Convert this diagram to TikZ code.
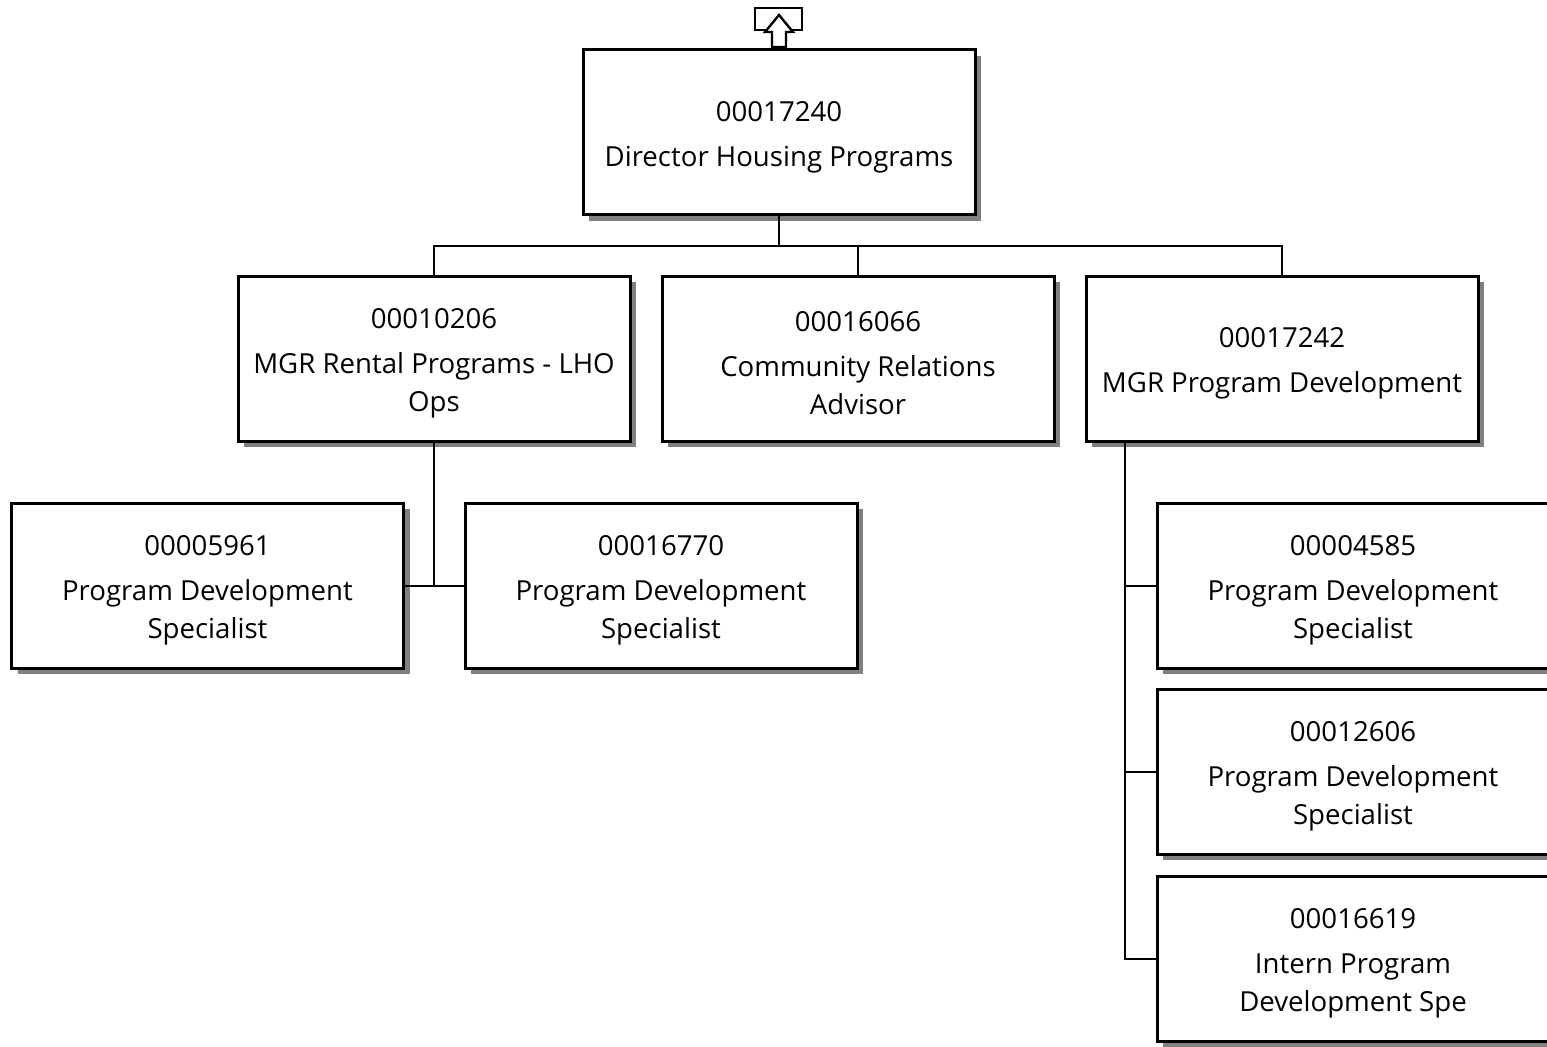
\documentclass[tikz,border=0pt]{standalone}
\usepackage{fontspec}
\setmainfont{Open Sans}
\usetikzlibrary{shadows}
\newcommand\postgap{\rule{0pt}{15pt}}

\begin{document}
\begin{tikzpicture}[x=0.5pt,y=-0.5pt]
\tikzset{
  post/.style={draw=black,line width=1.5pt,fill=white,minimum width=196pt,
    minimum height=82.5pt,align=center,inner sep=0pt,
    font=\fontsize{13.8}{19}\selectfont,
    drop shadow={shadow xshift=3pt,shadow yshift=-3pt,fill=gray,opacity=1}},
  link/.style={draw=black,line width=1pt}
}
\useasboundingbox (0,0) rectangle (1547,1046);
% top level
\node [post] (p17240) at (779,132) {\postgap 00017240\\[3.5pt]Director Housing Programs};
% second level
\node [post] (p10206) at (434,358.5) {\postgap 00010206\\[3.5pt]MGR Rental Programs - LHO\\Ops};
\node [post] (p16066) at (858,358.5) {\postgap 00016066\\[3.5pt]Community Relations\\Advisor};
\node [post] (p17242) at (1282,358.5) {\postgap 00017242\\[3.5pt]MGR Program Development};
% under 00010206
\node [post] (p05961) at (207.5,585.5) {\postgap 00005961\\[3.5pt]Program Development\\Specialist};
\node [post] (p16770) at (661,585.5) {\postgap 00016770\\[3.5pt]Program Development\\Specialist};
% under 00017242
\node [post] (p04585) at (1353,585.5) {\postgap 00004585\\[3.5pt]Program Development\\Specialist};
\node [post] (p12606) at (1353,771.5) {\postgap 00012606\\[3.5pt]Program Development\\Specialist};
\node [post] (p16619) at (1353,958.5) {\postgap 00016619\\[3.5pt]Intern Program\\Development Spe};
% connectors
\coordinate (bus) at (779,246);
\draw [link] (p17240.south) -- (bus);
\draw [link] (p10206.north) |- (bus) -| (p17242.north);
\draw [link] (p16066.north) -- (p16066.north |- bus);
\draw [link] (p10206.south) -- (p10206.south |- p05961.east);
\draw [link] (p05961.east) -- (p16770.west);
\coordinate (spine) at ([xshift=20pt]p17242.south west);
\draw [link] (spine) |- (p16619.west);
\draw [link] (spine |- p04585.west) -- (p04585.west);
\draw [link] (spine |- p12606.west) -- (p12606.west);
% up marker
\draw [line width=1.2pt,fill=white] (755,8) rectangle (802,30);
\draw [line width=1.2pt,fill=white,line join=miter] (779,15) -- (793,32) -- (786,32) -- (786,47)
  -- (772,47) -- (772,32) -- (765,32) -- cycle;
\end{tikzpicture}
\end{document}
